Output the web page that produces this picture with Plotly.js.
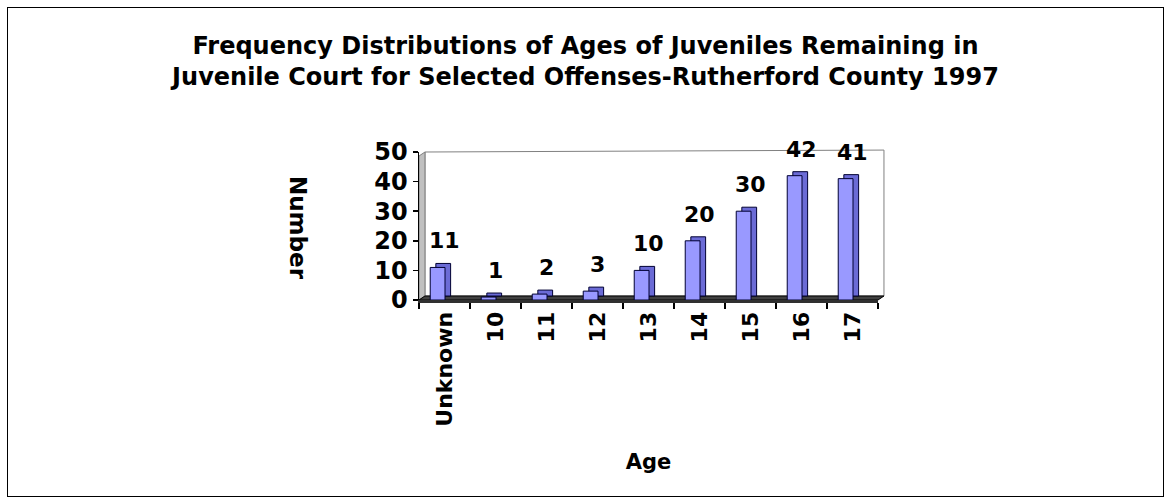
<!DOCTYPE html>
<html>
<head>
<meta charset="utf-8">
<script src="https://cdn.plot.ly/plotly-3.0.1.min.js"></script>
<style>
  html, body { margin: 0; padding: 0; background: #fff; }
  #wrap { position: relative; width: 1171px; height: 504px; }
  #chart { width: 1171px; height: 504px; }
  #frame { position: absolute; left: 7px; top: 7px; width: 1155px; height: 488px; border: 1.5px solid #000; pointer-events: none; }
</style>
</head>
<body>
<div id="wrap">
  <div id="chart"></div>
  <div id="frame"></div>
</div>
<script>
// ---- data ----
const ages = ["Unknown", "10", "11", "12", "13", "14", "15", "16", "17"];
const counts = [11, 1, 2, 3, 10, 20, 30, 42, 41];
const yTicks = [0, 10, 20, 30, 40, 50];

const chartTitle = "Frequency Distributions of Ages of Juveniles Remaining in<br>Juvenile Court for Selected Offenses-Rutherford County 1997";
const xTitle = "Age";
const yTitle = "Number";

// ---- style ----
const FONT = "DejaVu Sans, Arial, sans-serif";
const DEPTH = 1.35; // pseudo-3D depth in value units

const depthTrace = {
  type: "bar",
  x: ages,
  y: counts,
  base: counts.map(() => DEPTH),
  offset: -0.17,
  width: 0.29,
  marker: { color: "#6b6bd6", line: { color: "#000033", width: 1 } },
  hoverinfo: "skip",
  showlegend: false
};

const frontTrace = {
  type: "bar",
  x: ages,
  y: counts,
  offset: -0.28,
  width: 0.29,
  marker: { color: "#9999ff", line: { color: "#000033", width: 1 } },
  showlegend: false
};

const labelAnnotations = ages.map((a, i) => ({
  x: i, y: counts[i], xref: "x", yref: "y",
  text: String(counts[i]), showarrow: false,
  yanchor: "bottom", xanchor: "center", yshift: 12,
  font: { family: FONT, size: 22, color: "#000", weight: "bold" }
}));

const layout = {
  width: 1171, height: 504,
  margin: { l: 419, r: 293, t: 152, b: 204 },
  paper_bgcolor: "#fff", plot_bgcolor: "rgba(0,0,0,0)",
  barmode: "overlay",
  title: {
    text: chartTitle,
    x: 0.5, xref: "container", xanchor: "center",
    y: 1 - 53.5 / 504, yref: "container", yanchor: "middle",
    font: { family: FONT, size: 24, color: "#000", weight: "bold" }
  },
  xaxis: {
    type: "category",
    range: [-0.5, ages.length - 0.5],
    autorange: false,
    tickson: "boundaries",
    ticks: "outside", ticklen: 6, tickcolor: "#000", tickwidth: 1.5,
    tickangle: -90,
    tickfont: { family: FONT, size: 22, color: "#000", weight: "bold" },
    showline: true, linecolor: "#303030", linewidth: 3,
    showgrid: false, zeroline: false,
    title: { text: xTitle, standoff: 29, font: { family: FONT, size: 21, color: "#000", weight: "bold" } }
  },
  yaxis: {
    range: [0, 50],
    autorange: false,
    tickvals: yTicks,
    ticks: "outside", ticklen: 5, tickcolor: "#000", tickwidth: 1.5,
    tickfont: { family: FONT, size: 24, color: "#000", weight: "bold" },
    showline: true, linecolor: "#000", linewidth: 1.5,
    showgrid: false, zeroline: false
  },
  shapes: [
    { type: "path", xref: "paper", yref: "paper", layer: "below",
      path: "M 0.013 0.027 L 1.013 0.027 L 1.013 1.013 L 0.013 1.0 Z",
      fillcolor: "#fff", line: { color: "#808080", width: 1 } },
    { type: "path", xref: "paper", yref: "paper", layer: "below",
      path: "M 0 0 L 0.013 0.027 L 0.013 1.0 L 0 0.973 Z",
      fillcolor: "#c0c0c0", line: { color: "#808080", width: 1 } },
    { type: "path", xref: "paper", yref: "paper", layer: "below",
      path: "M 0 0 L 1 0 L 1.013 0.027 L 0.013 0.027 Z",
      fillcolor: "#404040", line: { color: "#000", width: 1 } }
  ],
  annotations: labelAnnotations.concat([
    { xref: "paper", yref: "paper", x: (298 - 419) / 459, y: (300 - 228) / 148,
      text: yTitle, textangle: 90, showarrow: false,
      xanchor: "center", yanchor: "middle",
      font: { family: FONT, size: 23, color: "#000", weight: "bold" } }
  ])
};

Plotly.newPlot("chart", [depthTrace, frontTrace], layout, { displayModeBar: false, staticPlot: true });
</script>
</body>
</html>
